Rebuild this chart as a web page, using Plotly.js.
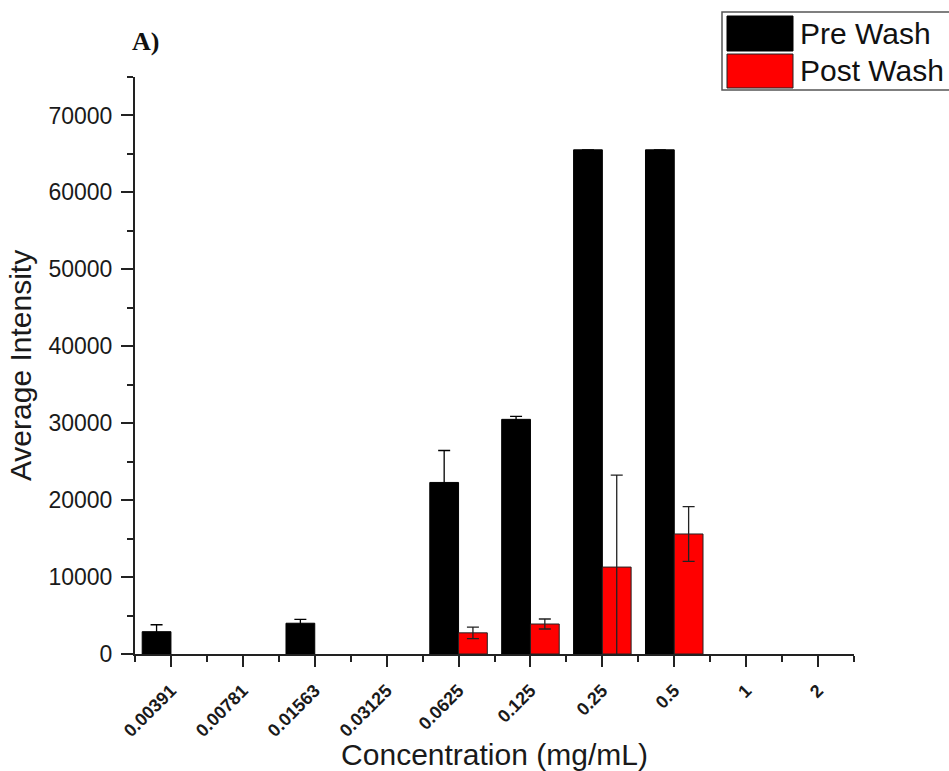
<!DOCTYPE html>
<html>
<head>
<meta charset="utf-8">
<script src="https://cdn.plot.ly/plotly-3.0.1.min.js"></script>
<style>html,body{margin:0;padding:0;background:#fff;}#chart{width:949px;height:771px;}</style>
</head>
<body>
<div id="chart"></div>
<script>
var categories = ["0.00391","0.00781","0.01563","0.03125","0.0625","0.125","0.25","0.5","1","2"];
var preWash    = [2900, null, 4000, null, 22300, 30500, 65535, 65535, null, null];
var preWashErr = [900,  null, 500,  null, 4150,  400,   0,     0,     null, null];
var postWash    = [null, null, null, null, 2750, 3900, 11300, 15600, null, null];
var postWashErr = [null, null, null, null, 750,  650,  11950, 3550,  null, null];
var seriesNames = ["Pre Wash", "Post Wash"];
var yTicks = [0,10000,20000,30000,40000,50000,60000,70000];

var xIdx = categories.map(function(c,i){return i;});

var W = 949, H = 771, L = 135, R = 95, T = 77, B = 117;
function px(x){ return (x - L) / (W - L - R); }
function py(y){ return (H - B - y) / (H - T - B); }

var traces = [
  {type:'bar', name:seriesNames[0], x:xIdx, y:preWash,
   marker:{color:'#000000', line:{color:'#000000', width:1}},
   error_y:{type:'data', array:preWashErr, visible:true, color:'#000', thickness:1.3, width:6},
   showlegend:false},
  {type:'bar', name:seriesNames[1], x:xIdx, y:postWash,
   marker:{color:'#ff0000', line:{color:'#222', width:1}},
   error_y:{type:'data', array:postWashErr, visible:true, color:'#222', thickness:1.3, width:6},
   showlegend:false}
];

var layout = {
  width:W, height:H,
  margin:{l:L, r:R, t:T, b:B, pad:0},
  paper_bgcolor:'#fff', plot_bgcolor:'#fff',
  barmode:'group', bargap:0.2, bargroupgap:0,
  font:{family:'Liberation Sans, Arial, sans-serif', color:'#222'},
  xaxis:{
    range:[-0.5, 9.5], tickmode:'array', tickvals:xIdx, ticktext:categories,
    tickangle:-45, tickfont:{size:18, family:'Liberation Sans, Arial, sans-serif', weight:'bold', color:'#1a1a1a'},
    ticklabelstandoff:6,
    ticks:'outside', ticklen:11, tickwidth:2, tickcolor:'#222',
    minor:{ticks:'outside', ticklen:6, tickwidth:2, tickcolor:'#222', tickmode:'linear', tick0:-0.5, dtick:1},
    showline:true, linecolor:'#222', linewidth:2, showgrid:false, zeroline:false,
    title:{text:'Concentration (mg/mL)', font:{size:30, color:'#1a1a1a'}, standoff:3}
  },
  yaxis:{
    range:[0, 75000], tickmode:'array', tickvals:yTicks, ticktext:yTicks.map(String),
    tickfont:{size:23, color:'#1a1a1a'},
    ticklabelstandoff:4,
    ticks:'outside', ticklen:12, tickwidth:2, tickcolor:'#222',
    minor:{ticks:'outside', ticklen:6, tickwidth:2, tickcolor:'#222', tickmode:'linear', tick0:5000, dtick:10000},
    showline:true, linecolor:'#222', linewidth:2, showgrid:false, zeroline:false,
    title:{text:'Average Intensity', font:{size:30, color:'#1a1a1a'}, standoff:8}
  },
  shapes:[
    {type:'rect', xref:'paper', yref:'paper', x0:px(722), x1:px(962), y0:py(90), y1:py(12),
     line:{color:'#555', width:1.5}, fillcolor:'rgba(0,0,0,0)'},
    {type:'rect', xref:'paper', yref:'paper', x0:px(727), x1:px(793), y0:py(51), y1:py(16),
     line:{color:'#000', width:1}, fillcolor:'#000000'},
    {type:'rect', xref:'paper', yref:'paper', x0:px(727), x1:px(793), y0:py(88), y1:py(54),
     line:{color:'#222', width:1}, fillcolor:'#ff0000'}
  ],
  annotations:[
    {xref:'paper', yref:'paper', x:px(798), y:py(34), xanchor:'left', yanchor:'middle',
     text:seriesNames[0], showarrow:false, font:{size:30, color:'#111'}},
    {xref:'paper', yref:'paper', x:px(798), y:py(70), xanchor:'left', yanchor:'middle',
     text:seriesNames[1], showarrow:false, font:{size:30, color:'#111'}},
    {xref:'paper', yref:'paper', x:px(145), y:py(41), xanchor:'center', yanchor:'middle',
     text:'A)', showarrow:false, font:{size:26, family:'Liberation Serif, Times New Roman, serif', weight:'bold', color:'#111'}}
  ]
};

Plotly.newPlot('chart', traces, layout, {displayModeBar:false, staticPlot:true});
</script>
</body>
</html>
